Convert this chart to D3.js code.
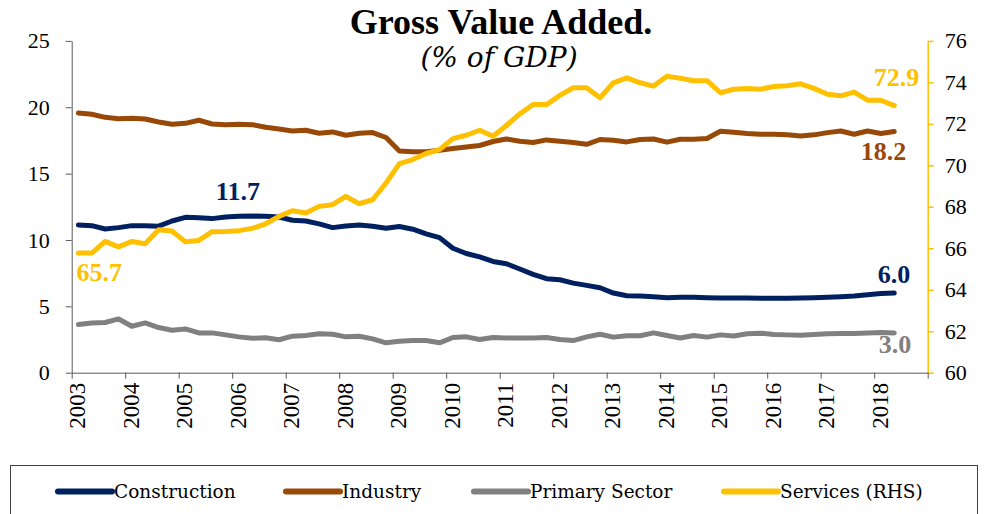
<!DOCTYPE html>
<html><head><meta charset="utf-8">
<script src="https://cdn.jsdelivr.net/npm/d3@7"></script>
<style>body{margin:0;background:#fff}svg{display:block}</style>
</head><body>
<svg id="c" width="989" height="514"></svg>
<script>
// ---------- data ----------
const years = [2003,2004,2005,2006,2007,2008,2009,2010,2011,2012,2013,2014,2015,2016,2017,2018];
const leftTicks = [0,5,10,15,20,25];
const rightTicks = [60,62,64,66,68,70,72,74,76];
const seriesNames = ["Construction","Industry","Primary Sector","Services (RHS)"];
const construction = [11.13,11.08,10.83,10.93,11.08,11.08,11.04,11.43,11.71,11.68,11.61,11.73,11.78,11.80,11.78,11.73,
  11.49,11.43,11.21,10.93,11.06,11.13,11.04,10.88,11.01,10.81,10.46,10.18,9.38,8.98,8.73,8.38,
  8.21,7.81,7.41,7.08,7.00,6.75,6.58,6.40,6.00,5.80,5.78,5.73,5.65,5.68,5.68,5.65,
  5.63,5.63,5.62,5.61,5.61,5.61,5.62,5.65,5.68,5.73,5.78,5.88,5.96,6.0];
const industry = [19.56,19.47,19.24,19.14,19.17,19.12,18.89,18.72,18.79,19.02,18.74,18.69,18.72,18.69,18.49,18.36,
  18.21,18.27,18.04,18.14,17.89,18.04,18.09,17.72,16.71,16.64,16.64,16.76,16.89,17.01,17.12,17.42,
  17.61,17.44,17.34,17.54,17.44,17.34,17.21,17.57,17.52,17.39,17.57,17.61,17.37,17.59,17.59,17.65,
  18.19,18.12,18.02,17.97,17.97,17.92,17.84,17.92,18.09,18.21,17.97,18.21,18.02,18.17];
const primary = [3.63,3.75,3.78,4.05,3.50,3.75,3.40,3.20,3.30,3.00,3.00,2.85,2.70,2.60,2.63,2.48,
  2.75,2.80,2.93,2.90,2.70,2.75,2.55,2.25,2.37,2.42,2.42,2.25,2.65,2.70,2.50,2.65,
  2.62,2.62,2.62,2.65,2.50,2.42,2.70,2.90,2.68,2.78,2.78,3.00,2.80,2.62,2.80,2.68,
  2.85,2.77,2.93,2.98,2.88,2.85,2.82,2.87,2.93,2.95,2.95,3.00,3.02,3.0];
const services = [65.77,65.77,66.33,66.07,66.33,66.22,66.89,66.83,66.31,66.38,66.80,66.81,66.85,66.96,67.18,67.54,
  67.81,67.70,68.02,68.10,68.50,68.15,68.34,69.15,70.08,70.28,70.57,70.76,71.29,71.45,71.69,71.40,
  71.92,72.48,72.93,72.93,73.37,73.74,73.74,73.26,73.98,74.22,73.98,73.82,74.30,74.20,74.08,74.08,
  73.50,73.67,73.71,73.67,73.80,73.84,73.93,73.71,73.43,73.35,73.53,73.14,73.14,72.88];
const labelTexts = ["65.7","11.7","72.9","18.2","6.0","3.0"];

// ---------- drawing ----------
const colors = {con:"#002060", ind:"#984807", pri:"#808080", ser:"#FFC000"};
const svg = d3.select("#c");
svg.append("rect").attr("width",989).attr("height",514).attr("fill","#fff");

const nCats = years.length*4;
const x = d3.scaleLinear().domain([0,nCats]).range([71.7,927.7]);
const yL = d3.scaleLinear().domain([0,25]).range([372.7,40.9]);
const yR = d3.scaleLinear().domain([60,76]).range([372.7,40.9]);
const px = i => x(i+0.5);

const serif = "'Liberation Serif','Times New Roman',serif";
const axisCol = "#595959";

// left axis
const gL = svg.append("g").attr("transform",`translate(${x(0)},0)`)
  .call(d3.axisLeft(yL).tickValues(leftTicks).tickSize(6).tickSizeOuter(0).tickPadding(16));
gL.select(".domain").attr("stroke",axisCol);
gL.selectAll(".tick line").attr("stroke",axisCol);
gL.selectAll(".tick text").attr("font-family",serif).attr("font-size",22).attr("fill","#000");

// right axis
const gR = svg.append("g").attr("transform",`translate(${x(nCats)},0)`)
  .call(d3.axisRight(yR).tickValues(rightTicks).tickSize(6).tickSizeOuter(0).tickPadding(11));
gR.select(".domain").attr("stroke",colors.ser).attr("stroke-width",1.5);
gR.selectAll(".tick line").attr("stroke",colors.ser).attr("stroke-width",1.5);
gR.selectAll(".tick text").attr("font-family",serif).attr("font-size",22).attr("fill","#000");

// x axis
const gX = svg.append("g").attr("transform",`translate(0,${yL(0)})`)
  .call(d3.axisBottom(x).tickValues(d3.range(0,nCats+1,4)).tickSize(6).tickSizeOuter(0).tickFormat(""));
gX.select(".domain").attr("stroke",axisCol);
gX.selectAll(".tick line").attr("stroke",axisCol);
svg.append("g").selectAll("text").data(years).join("text")
  .attr("transform",(d,i)=>`translate(${px(i*4)-1},${yL(0)+10}) rotate(-90)`)
  .attr("text-anchor","end").attr("dy","0.35em")
  .attr("font-family",serif).attr("font-size",23).attr("fill","#000")
  .text(d=>d);

// lines
const lineL = d3.line().x((d,i)=>px(i)).y(d=>yL(d));
const lineR = d3.line().x((d,i)=>px(i)).y(d=>yR(d));
const lineStyle = (p,c)=>p.attr("fill","none").attr("stroke",c).attr("stroke-width",5)
  .attr("stroke-linejoin","round").attr("stroke-linecap","round");
svg.append("path").attr("d",lineL(primary)).call(lineStyle,colors.pri);
svg.append("path").attr("d",lineL(industry)).call(lineStyle,colors.ind);
svg.append("path").attr("d",lineL(construction)).call(lineStyle,colors.con);
svg.append("path").attr("d",lineR(services)).call(lineStyle,colors.ser);

// data labels
const last = construction.length-1;
const lab = (t,xx,yy,anchor,col)=>svg.append("text").attr("x",xx).attr("y",yy)
  .attr("text-anchor",anchor).attr("font-family",serif).attr("font-weight","bold")
  .attr("font-size",26).attr("fill",col).text(t);
lab(labelTexts[0], px(0)-2, yR(services[0])+28, "start", colors.ser);
lab(labelTexts[1], px(12)-1, yL(construction[13])-16, "middle", colors.con);
lab(labelTexts[2], px(last)+25, yR(services[last])-20, "end", colors.ser);
lab(labelTexts[3], px(last)+12, yL(industry[last])+28, "end", colors.ind);
lab(labelTexts[4], px(last)+16, yL(construction[last])-10, "end", colors.con);
lab(labelTexts[5], px(last)+17, yL(primary[last])+20, "end", colors.pri);

// title
svg.append("text").attr("x",501).attr("y",34).attr("text-anchor","middle")
  .attr("font-family",serif).attr("font-weight","bold").attr("font-size",36).attr("fill","#000")
  .text("Gross Value Added.");
svg.append("text").attr("x",499).attr("y",67).attr("text-anchor","middle")
  .attr("font-family","'DejaVu Serif',serif").attr("font-style","italic").attr("font-size",28).attr("fill","#000")
  .text("(% of GDP)");

// legend
svg.append("rect").attr("x",10.5).attr("y",465.5).attr("width",967).attr("height",60)
  .attr("fill","#fff").attr("stroke","#404040").attr("stroke-width",1);
const legCols = [colors.con,colors.ind,colors.pri,colors.ser];
const legX = [58,286,474,724];
const lg = svg.append("g").selectAll("g").data(seriesNames).join("g")
  .attr("transform",(d,i)=>`translate(${legX[i]},0)`);
lg.append("line").attr("x1",0).attr("x2",54).attr("y1",491.5).attr("y2",491.5)
  .attr("stroke",(d,i)=>legCols[i]).attr("stroke-width",6).attr("stroke-linecap","round");
lg.append("text").attr("x",56).attr("y",498).attr("font-family","'DejaVu Serif',serif")
  .attr("font-size",18.5).attr("fill","#000").text(d=>d);
</script>
</body></html>
